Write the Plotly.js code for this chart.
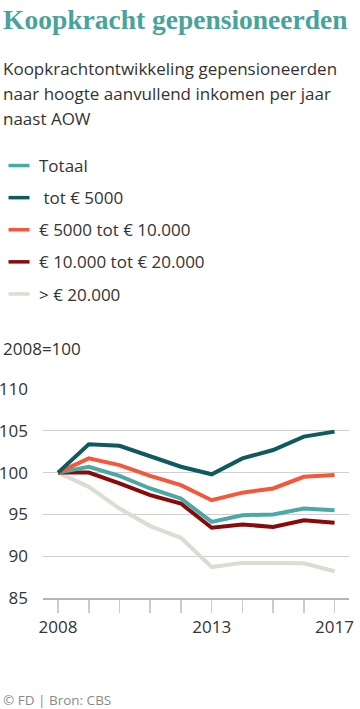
<!DOCTYPE html>
<html><head><meta charset="utf-8">
<script src="https://cdn.plot.ly/plotly-3.0.1.min.js"></script>
<style>html,body{margin:0;padding:0;background:#fff;}#chart{width:360px;height:709px;}</style>
</head><body><div id="chart"></div>
<script>
const years = [2008, 2009, 2010, 2011, 2012, 2013, 2014, 2015, 2016, 2017];
const tickLabels = ['2008', '', '', '', '', '2013', '', '', '', '2017'];
const seriesNames = ['Totaal', '\u00a0tot € 5000', '€ 5000 tot € 10.000', '€ 10.000 tot € 20.000', '> € 20.000'];
const totaal   = [100, 100.7, 99.6, 98.1, 96.9, 94.1, 94.9, 95.0, 95.7, 95.5];
const tot5000  = [100, 103.4, 103.2, 102.0, 100.7, 99.8, 101.7, 102.7, 104.3, 104.9];
const tot10000 = [100, 101.7, 100.9, 99.6, 98.5, 96.7, 97.6, 98.1, 99.5, 99.7];
const tot20000 = [100, 100.0, 98.7, 97.3, 96.3, 93.4, 93.8, 93.5, 94.3, 94.0];
const boven20000 = [100, 98.3, 95.7, 93.6, 92.2, 88.7, 89.2, 89.15, 89.15, 88.2];
const colors = ['#4aa9a6', '#0e5a5d', '#f4583b', '#8a0a0a', '#dedbd3'];
const seriesValues = [totaal, tot5000, tot10000, tot20000, boven20000];

const FONT = '"Open Sans", Lato, sans-serif';
const traces = [];
const drawOrder = [4, 3, 0, 2, 1];
drawOrder.forEach(i => {
  traces.push({
    x: years, y: seriesValues[i], type: 'scatter', mode: 'lines',
    line: {color: colors[i], width: 4}, showlegend: false, hoverinfo: 'skip'
  });
});
seriesValues.forEach((v, i) => {
  traces.push({
    x: [null], y: [null], type: 'scatter', mode: 'markers', name: seriesNames[i],
    legendgroup: 'g' + i,
    marker: {symbol: 'line-ew', size: 15, line: {color: colors[i], width: 3.5}, color: colors[i]},
    showlegend: true
  });
});

const M = {l: 43, r: 11, t: 389, b: 111, autoexpand: false};
const PW = 360 - M.l - M.r, PH = 709 - M.t - M.b;
const px = v => (v - M.l) / PW;
const py = v => (709 - M.b - v) / PH;

const textLines = ['Koopkrachtontwikkeling gepensioneerden', 'naar hoogte aanvullend inkomen per jaar', 'naast AOW', '2008=100', '© FD | Bron: CBS'];
const textY = [68, 94, 118, 348, 700];

const layout = {
  width: 360, height: 709,
  margin: M,
  paper_bgcolor: '#fff', plot_bgcolor: '#fff',
  font: {family: FONT, color: '#333', size: 17},
  title: {
    text: 'Koopkracht gepensioneerden',
    font: {family: '"Liberation Serif", serif', size: 27.5, color: '#47a39b', weight: 'bold'},
    xref: 'container', yref: 'container', x: 3/360, xanchor: 'left', y: 1 - 10/709, yanchor: 'top'
  },
  showlegend: true,
  legend: {
    xref: 'paper', yref: 'paper', x: px(-1), xanchor: 'left', y: py(148), yanchor: 'top',
    font: {family: FONT, size: 17, color: '#333'}, tracegroupgap: 7, traceorder: 'grouped',
    bgcolor: 'rgba(0,0,0,0)', borderwidth: 0
  },
  xaxis: {
    range: [2007.51, 2017.47], tickvals: years, ticktext: tickLabels,
    ticks: 'outside', ticklen: 13, tickcolor: '#cccccc', tickwidth: 1.5,
    showgrid: false, zeroline: false, showline: true, linecolor: '#b5b5b5', linewidth: 2,
    tickfont: {family: FONT, size: 17, color: '#333'}, fixedrange: true
  },
  yaxis: {
    range: [85, 110], tickvals: [85, 90, 95, 100, 105, 110], ticks: '',
    showgrid: true, gridcolor: '#d0d0d0', gridwidth: 1, zeroline: false, showline: false,
    tickfont: {family: FONT, size: 17, color: '#333'}, ticklabelstandoff: 14, fixedrange: true
  },
  annotations: textLines.map((t, k) => ({
    text: t, showarrow: false, xref: 'paper', yref: 'paper',
    x: px(1), xanchor: 'left', y: py(textY[k]), yanchor: 'middle',
    font: k === 4 ? {family: FONT, size: 13.5, color: '#8a8a8a'} : {family: FONT, size: 17, color: '#333'}
  }))
};

Plotly.newPlot('chart', traces, layout, {displayModeBar: false, staticPlot: true});
</script>
</body></html>
